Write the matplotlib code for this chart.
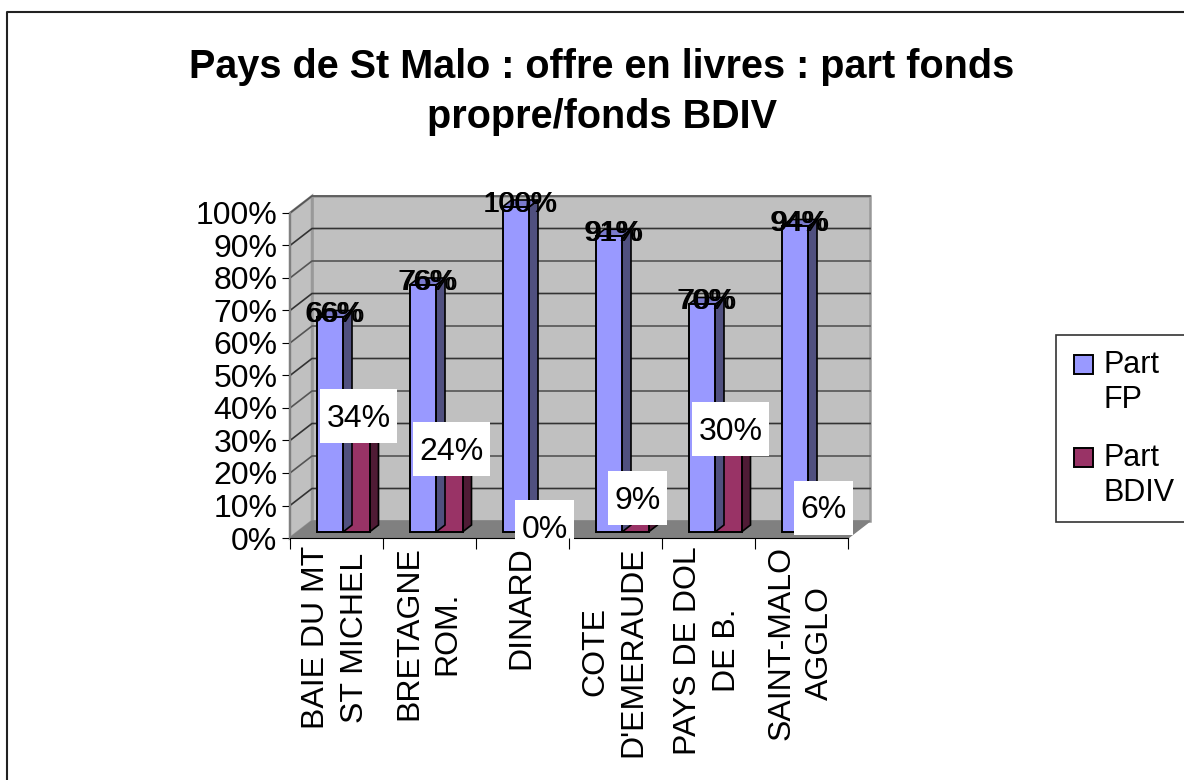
import matplotlib
matplotlib.use("Agg")
import matplotlib.pyplot as plt
from matplotlib.patches import Polygon, Rectangle
import numpy as np

categories = ["BAIE DU MT\nST MICHEL", "BRETAGNE\nROM.", "DINARD", "COTE\nD'EMERAUDE", "PAYS DE DOL\nDE B.", "SAINT-MALO\nAGGLO"]
part_fp = [66, 76, 100, 91, 70, 94]
part_bdiv = [34, 24, 0, 9, 30, 6]
y_ticks = [0, 10, 20, 30, 40, 50, 60, 70, 80, 90, 100]
title = "Pays de St Malo : offre en livres : part fonds\npropre/fonds BDIV"

W, H = 1184, 780
FS = 23
plt.rcParams["font.family"] = ["Liberation Sans", "DejaVu Sans"]

fig = plt.figure(figsize=(W / 100, H / 100), dpi=100)
# full figure pixel axes for the frame
bg = fig.add_axes([0, 0, 1, 1])
bg.set_xlim(0, W)
bg.set_ylim(H, 0)
bg.axis("off")
bg.plot([7, 7, W], [H, 12, 12], color="#222222", lw=1.5)

# front plane of the 3d box: x 290-848, y 538-213
L, R, B, T = 290, 848, 538, 213
ax = fig.add_axes([L / W, 1 - B / H, (R - L) / W, (B - T) / H])
ax.set_xlim(0, 6)
ax.set_ylim(0, 100)
ax.patch.set_alpha(0)
for s in ["top", "right"]:
    ax.spines[s].set_visible(False)
ax.spines["left"].set_color("#808080")
ax.spines["left"].set_linewidth(1.5)
ax.spines["bottom"].set_color("black")

ux = 6 / (R - L)   # data per pixel
uy = 100 / (B - T)
dx, dy = 22 * ux, 17 * uy
wall = "#c0c0c0"

# back wall, side wall, floor
ax.add_patch(Polygon([(dx, dy), (6 + dx, dy), (6 + dx, 100 + dy), (dx, 100 + dy)], fc=wall, ec="#999999", lw=1.8, clip_on=False, zorder=1))
ax.add_patch(Polygon([(0, 0), (dx, dy), (dx, 100 + dy), (0, 100)], fc=wall, ec="#999999", lw=1.8, clip_on=False, zorder=1))
ax.add_patch(Polygon([(0, 0), (6, 0), (6 + dx, dy), (dx, dy)], fc="#808080", ec="#808080", lw=1, clip_on=False, zorder=1.2))
for v in y_ticks[1:]:
    ax.plot([0, dx, 6 + dx], [v, v + dy, v + dy], color="#333333" if v % 20 else "#555555", lw=1.2, clip_on=False, zorder=1.5)

# bars
w = 26.5 * ux
base = 6 * uy
bx, by = 9 * ux, 7 * uy
x = np.arange(6) + 0.5 + 6.5 * ux
fp_c, bd_c = "#9999ff", "#993366"
fp_side, bd_side = "#50507f", "#4f1b35"
fp_top = "#7a7acc"


def bars(xs, vals, col, side, top, z):
    ax.bar(xs, vals, width=w, bottom=base, align="edge", color=col, edgecolor="black", lw=1.4, zorder=z + 0.2, clip_on=False)
    for xi, v in zip(xs, vals):
        if v == 0:
            continue
        t = base + v
        ax.add_patch(Polygon([(xi + w, base), (xi + w + bx, base + by), (xi + w + bx, t + by), (xi + w, t)],
                             fc=side, ec="black", lw=1.2, clip_on=False, zorder=z))
        ax.add_patch(Polygon([(xi, t), (xi + bx, t + by), (xi + w + bx, t + by), (xi + w, t)],
                             fc=top, ec="black", lw=1.2, clip_on=False, zorder=z))


bars(x - w, part_fp, fp_c, fp_side, fp_top, 3)
bars(x, part_bdiv, bd_c, bd_side, "#7a2a52", 2)

# labels, fp ones drawn twice because the reference has them doubled
for xi, v in zip(x - w, part_fp):
    for shift in [4, 5.5]:
        ax.text(xi + w / 2 + shift * ux, base + v + 3 * uy, f"{v}%", ha="center", va="center", fontsize=21,
                color="black", zorder=6, clip_on=False)

rend = fig.canvas.get_renderer()
for xi, v in zip(x, part_bdiv):
    cx = xi + w / 2 + 2.5 * ux
    cy = base + v + 5 * uy
    t = ax.text(cx, cy - 3 * uy, f"{v}%", ha="center", va="center", fontsize=FS, color="black", zorder=7.5, clip_on=False)
    tw = t.get_window_extent(rend).width + 13
    ax.add_patch(Rectangle((cx - tw / 2 * ux, cy - 27 * uy), tw * ux, 54 * uy, fc="white", ec="none", clip_on=False, zorder=7))

ax.set_yticks(y_ticks)
ax.set_yticklabels([f"{v}%" for v in y_ticks], fontsize=FS)
ax.tick_params(axis="y", length=6, color="black", pad=3)
ax.set_xticks(range(7))
ax.set_xticklabels([])
ax.tick_params(axis="x", length=8, color="black")
ax.xaxis.set_zorder(8)
for i, c in enumerate(categories):
    ax.text(i + 0.5 - 1 * ux, -8 * uy, c, rotation=90, ha="center", va="top", ma="center", fontsize=FS, linespacing=1.36, clip_on=False, zorder=8)

fig.text(602 / W, 1 - 92 / H, title, ha="center", va="center", ma="center", fontsize=28.5, fontweight="bold", linespacing=1.42)

# legend box
bg.add_patch(Rectangle((1056, 335), 140, 187, fc="white", ec="#333333", lw=1.2))
for yy, col, a, b in [(364, fp_c, "Part", "FP"), (457, bd_c, "Part", "BDIV")]:
    bg.add_patch(Rectangle((1074, yy - 9.5), 19, 19, fc=col, ec="black", lw=1.4))
    bg.text(1103, yy + 1, a, fontsize=22, va="center")
    bg.text(1103, yy + 36, b, fontsize=22, va="center")
bg.set_zorder(0)
ax.set_zorder(1)
fig.savefig("out.png", dpi=100)
